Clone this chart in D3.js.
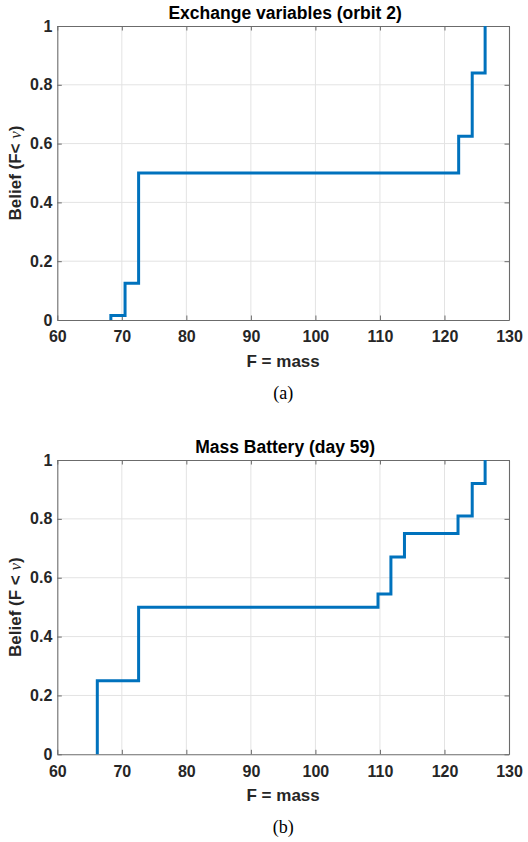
<!DOCTYPE html>
<html>
<head>
<meta charset="utf-8">
<script src="https://cdn.jsdelivr.net/npm/d3@7"></script>
<style>
  html, body { margin: 0; padding: 0; background: #fff; }
  svg { display: block; }
</style>
</head>
<body>
<svg id="chart" width="528" height="842"></svg>
<script>
// ---- data ----
const xTicks = [60, 70, 80, 90, 100, 110, 120, 130];
const yTicks = [0, 0.2, 0.4, 0.6, 0.8, 1];
const yTickLabels = ["0", "0.2", "0.4", "0.6", "0.8", "1"];

const titleA = "Exchange variables (orbit 2)";
const jumpsA = [68.3, 70.5, 72.6, 122.2, 124.3, 126.3];
const levelsA = [0.015, 0.125, 0.5, 0.625, 0.84, 1];
const yLabelA = "Belief (F< ";
const captionA = "(a)";

const titleB = "Mass Battery (day 59)";
const jumpsB = [66.2, 72.6, 109.7, 111.7, 113.8, 122.1, 124.3, 126.3];
const levelsB = [0.25, 0.5, 0.545, 0.67, 0.75, 0.81, 0.92, 1];
const yLabelB = "Belief (F < ";
const captionB = "(b)";

const xLabel = "F = mass";

// ---- drawing ----
const svg = d3.select("#chart");
const FONT = "'Liberation Sans', Arial, sans-serif";
const TXT = "#262626";
const AXC = "#6b6b6b";

function panel(top, bottom, title, jumps, levels, yLabel, caption) {
  const left = 57.3, right = 509;
  const x = d3.scaleLinear().domain([60, 130]).range([left, right]);
  const y = d3.scaleLinear().domain([0, 1]).range([bottom, top]);
  const g = svg.append("g");

  // grid
  g.append("g").selectAll("line").data(xTicks.slice(1, -1)).join("line")
    .attr("x1", d => x(d)).attr("x2", d => x(d))
    .attr("y1", top).attr("y2", bottom)
    .attr("stroke", "#e3e3e3").attr("stroke-width", 1);
  g.append("g").selectAll("line").data(yTicks.slice(1, -1)).join("line")
    .attr("y1", d => y(d)).attr("y2", d => y(d))
    .attr("x1", left).attr("x2", right)
    .attr("stroke", "#e3e3e3").attr("stroke-width", 1);

  // axes with inward ticks
  const tl = 4.5;
  const xb = g.append("g").attr("transform", `translate(0,${bottom})`)
    .call(d3.axisBottom(x).tickValues(xTicks).tickSizeInner(-tl).tickSizeOuter(0).tickPadding(11).tickFormat(d3.format("d")));
  const xt = g.append("g").attr("transform", `translate(0,${top})`)
    .call(d3.axisTop(x).tickValues(xTicks).tickSizeInner(-tl).tickSizeOuter(0).tickFormat(""));
  const yl = g.append("g").attr("transform", `translate(${left},0)`)
    .call(d3.axisLeft(y).tickValues(yTicks).tickSizeInner(-tl).tickSizeOuter(0).tickPadding(5)
      .tickFormat((d, i) => yTickLabels[i]));
  const yr = g.append("g").attr("transform", `translate(${right},0)`)
    .call(d3.axisRight(y).tickValues(yTicks).tickSizeInner(-tl).tickSizeOuter(0).tickFormat(""));
  [xb, xt, yl, yr].forEach(a => {
    a.select(".domain").attr("stroke", AXC).attr("stroke-width", 1.1);
    a.selectAll(".tick line").attr("stroke", AXC).attr("stroke-width", 1);
    a.selectAll("text").attr("fill", TXT).style("font-family", FONT)
      .style("font-size", "16px").style("font-weight", "bold");
  });
  xb.selectAll("text").attr("dy", "0.71em");

  // step line
  const pts = [[jumps[0], 0]].concat(jumps.map((j, i) => [j, levels[i]]));
  const line = d3.line().x(d => x(d[0])).y(d => y(d[1])).curve(d3.curveStepAfter);
  g.append("path").datum(pts).attr("d", line)
    .attr("fill", "none").attr("stroke", "#0072BD").attr("stroke-width", 3)
    .attr("stroke-linejoin", "miter").attr("stroke-linecap", "butt");

  // title
  g.append("text").attr("x", (left + right) / 2 + 2).attr("y", top - 7)
    .attr("text-anchor", "middle").attr("fill", "#000")
    .style("font-family", FONT).style("font-size", "17.5px").style("font-weight", "bold")
    .text(title);

  // x label
  g.append("text").attr("x", (left + right) / 2).attr("y", bottom + 47)
    .attr("text-anchor", "middle").attr("fill", TXT)
    .style("font-family", FONT).style("font-size", "17px").style("font-weight", "bold")
    .text(xLabel);

  // y label
  const yt = g.append("text")
    .attr("transform", `translate(21,${(top + bottom) / 2}) rotate(-90)`)
    .attr("text-anchor", "middle").attr("fill", TXT)
    .style("font-family", FONT).style("font-size", "17px").style("font-weight", "bold");
  yt.append("tspan").text(yLabel);
  yt.append("tspan").style("font-family", "'Liberation Serif', 'Times New Roman', serif")
    .style("font-style", "italic").style("font-weight", "normal").text("\u03bd");
  yt.append("tspan").text(")");

  // caption
  g.append("text").attr("x", (left + right) / 2).attr("y", bottom + 79)
    .attr("text-anchor", "middle").attr("fill", "#000")
    .style("font-family", "'Liberation Serif', 'Times New Roman', serif").style("font-size", "18px")
    .text(caption);
}

panel(26, 320, titleA, jumpsA, levelsA, yLabelA, captionA);
panel(460, 754.3, titleB, jumpsB, levelsB, yLabelB, captionB);
</script>
</body>
</html>
